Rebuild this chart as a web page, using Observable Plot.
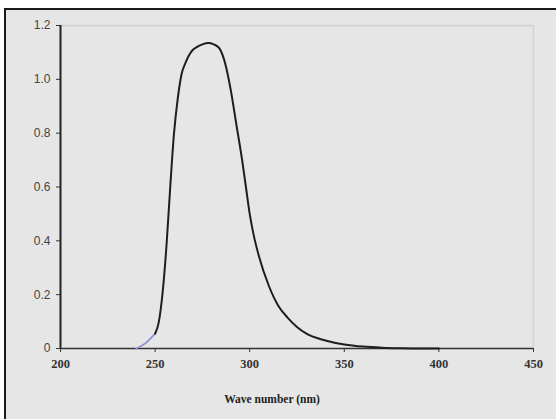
<!DOCTYPE html>
<html>
<head>
<meta charset="utf-8">
<script src="https://cdn.jsdelivr.net/npm/d3@7"></script>
<script src="https://cdn.jsdelivr.net/npm/@observablehq/plot@0.6"></script>
<style>
  html, body { margin: 0; padding: 0; background: #ffffff; }
  #frame { position: absolute; left: 4px; top: 8px; width: 552px; height: 411px;
           border-top: 2px solid #1a1a1a; border-left: 2px solid #1a1a1a; background: #e6e6e6; }
  #chart { position: absolute; left: 0; top: 0; }
</style>
</head>
<body>
<div id="frame"></div>
<div id="chart"></div>
<script>
// Main absorption curve (black)
const wavelength = [250, 252, 254, 256, 258, 260, 262, 264, 266, 268, 270, 272, 275, 278, 281, 284, 287, 290, 293, 296, 298, 300, 302, 305, 310, 315, 320, 325, 330, 340, 350, 360, 370, 380, 390, 400];
const absorbance = [0.055, 0.10, 0.21, 0.38, 0.60, 0.80, 0.93, 1.02, 1.06, 1.09, 1.11, 1.12, 1.13, 1.135, 1.13, 1.115, 1.06, 0.96, 0.83, 0.70, 0.60, 0.50, 0.425, 0.34, 0.235, 0.16, 0.115, 0.08, 0.055, 0.03, 0.015, 0.007, 0.003, 0.001, 0, 0];
// Short onset segment (blue)
const onsetWavelength = [240, 245, 250];
const onsetAbsorbance = [0, 0.02, 0.055];
// Axis ticks
const xTicks = [200, 250, 300, 350, 400, 450];
const yTicks = [0, 0.2, 0.4, 0.6, 0.8, 1.0, 1.2];
const xLabel = "Wave number (nm)";

const main = wavelength.map((w, i) => ({x: w, y: absorbance[i]}));
const onset = onsetWavelength.map((w, i) => ({x: w, y: onsetAbsorbance[i]}));

const chart = Plot.plot({
  width: 556,
  height: 419,
  marginLeft: 60,
  marginRight: 23,
  marginTop: 25,
  marginBottom: 71,
  style: {background: "transparent", overflow: "visible"},
  x: {domain: [200, 450], ticks: xTicks, label: null},
  y: {domain: [0, 1.2], ticks: yTicks, label: null},
  marks: [
    // faint plot-area frame top and right
    Plot.ruleY([1.2], {stroke: "#cfcfcf", strokeWidth: 1.5}),
    Plot.ruleX([450], {y1: 0, y2: 1.2, stroke: "#d4d4d4", strokeWidth: 1.5}),
    Plot.axisX({ticks: xTicks, tickSize: 4, tickPadding: 7, stroke: "#333",
      fontFamily: "Liberation Serif", fontWeight: "bold", fontSize: 12.5, fill: "#333", label: null}),
    Plot.axisY({ticks: yTicks, tickSize: 4, tickPadding: 6, stroke: "#333",
      tickFormat: d => d === 0 ? "0" : d3.format(".1f")(d),
      fontFamily: "Liberation Sans", fontSize: 12, fill: "#444", label: null}),
    Plot.ruleX([200], {y1: 0, y2: 1.2, stroke: "#222", strokeWidth: 2}),
    Plot.ruleY([0], {x1: 200, x2: 450, stroke: "#333", strokeWidth: 1.5}),
    Plot.line(onset, {x: "x", y: "y", curve: "monotone-x", stroke: "#8f8fdc", strokeWidth: 1.8}),
    Plot.line(main, {x: "x", y: "y", curve: "monotone-x", stroke: "#1e1e1e", strokeWidth: 2}),
    Plot.text([xLabel], {frameAnchor: "bottom", dy: 54, dx: -25, text: d => d,
      fontFamily: "Liberation Serif", fontWeight: "bold", fontSize: 11.5, fill: "#222"})
  ]
});
document.getElementById("chart").appendChild(chart);
</script>
</body>
</html>
